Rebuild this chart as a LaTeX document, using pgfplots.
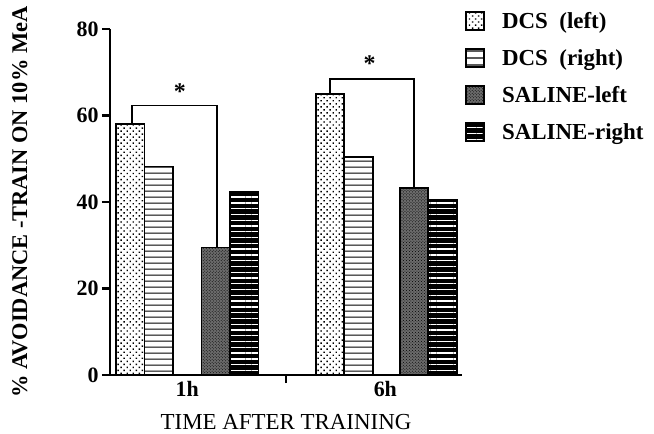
\documentclass[border=0pt]{standalone}
\usepackage{fontspec}
\setmainfont{Liberation Serif}
\usepackage{pgfplots}
\pgfplotsset{compat=1.18}
\usetikzlibrary{patterns,patterns.meta}
\begin{document}
\begin{tikzpicture}
\path[use as bounding box] (-110bp,-59bp) rectangle (544bp,375bp);
\begin{axis}[
  anchor=south west, at={(0,0)},
  scale only axis, width=352bp, height=346bp,
  xmin=-0.39, xmax=1.387, ymin=0, ymax=80,
  axis x line*=bottom, axis y line*=left,
  axis line style={line width=2.4pt},
  every tick/.style={black, line width=2.2pt},
  tick align=outside, major tick length=8bp,
  ytick={0,20,40,60,80},
  xtick={0.5}, xticklabels={},
  extra x ticks={0,1}, extra x tick labels={1h,6h},
  extra x tick style={major tick length=0pt, xticklabel style={yshift=-3bp}},
  /pgf/number format/assume math mode=true,
  ticklabel style={font=\bfseries\fontsize{22}{24}\selectfont},
  xlabel={TIME AFTER TRAINING},
  xlabel style={font=\fontsize{23}{25}\selectfont, at={(axis description cs:0.5,0)}, anchor=center, yshift=-47.5bp},
  ylabel={\% AVOIDANCE -TRAIN ON 10\% MeA},
  ylabel style={font=\bfseries\fontsize{22.5}{24}\selectfont, at={(axis description cs:-0.256,0.5)}, anchor=center, rotate=0},
  legend style={draw=none, fill=none, at={(rel axis cs:1.009,1.055)}, anchor=north west,
    font=\bfseries\fontsize{23}{25}\selectfont, row sep=15.5bp, inner sep=0pt},
  legend cell align=left,
  legend image code/.code={\draw[#1, line width=1.8pt] (0bp,-9bp) rectangle (18bp,9bp); \path (33bp,0bp);},
]
\addplot[ybar, bar width=0.144, bar shift=0pt, draw=black, line width=1.8pt, fill=white,
  postaction={pattern={Dots[angle=45, distance=4.3pt, radius=1pt]}, pattern color=black}]
  coordinates {(-0.288,58.0) (0.72,65.0)};
\addlegendentry{DCS\ \ (left)}
\addplot[ybar, bar width=0.144, bar shift=0pt, draw=black, line width=1.8pt, fill=white,
  postaction={pattern={Lines[angle=0, distance=6.4pt, line width=1.2pt]}, pattern color=black}]
  coordinates {(-0.144,48.2) (0.864,50.4)};
\addlegendentry{DCS\ \ (right)}
\addplot[ybar, bar width=0.144, bar shift=0pt, draw=black, line width=1.8pt, fill=black!58,
  postaction={pattern=crosshatch dots, pattern color=black}]
  coordinates {(0.144,29.5) (1.144,43.3)};
\addlegendentry{SALINE-left}
\addplot[ybar, bar width=0.144, bar shift=0pt, draw=black, line width=1.8pt, fill=black,
  postaction={pattern={Lines[angle=0, distance=5.8pt, line width=1.3pt]}, pattern color=white}]
  coordinates {(0.288,42.4) (1.288,40.4)};
\addlegendentry{SALINE-right}
\addplot[black, line width=1.8pt, sharp plot, forget plot] coordinates {(-0.28,58.0) (-0.28,62.3) (0.15,62.3) (0.15,29.5)};
\addplot[black, line width=1.8pt, sharp plot, forget plot] coordinates {(0.72,65.0) (0.72,68.4) (1.146,68.4) (1.146,43.3)};
\node[font=\bfseries\fontsize{24}{26}\selectfont] at (axis cs:-0.037,65.6) {*};
\node[font=\bfseries\fontsize{24}{26}\selectfont] at (axis cs:0.92,72.0) {*};
\end{axis}
\end{tikzpicture}
\end{document}
